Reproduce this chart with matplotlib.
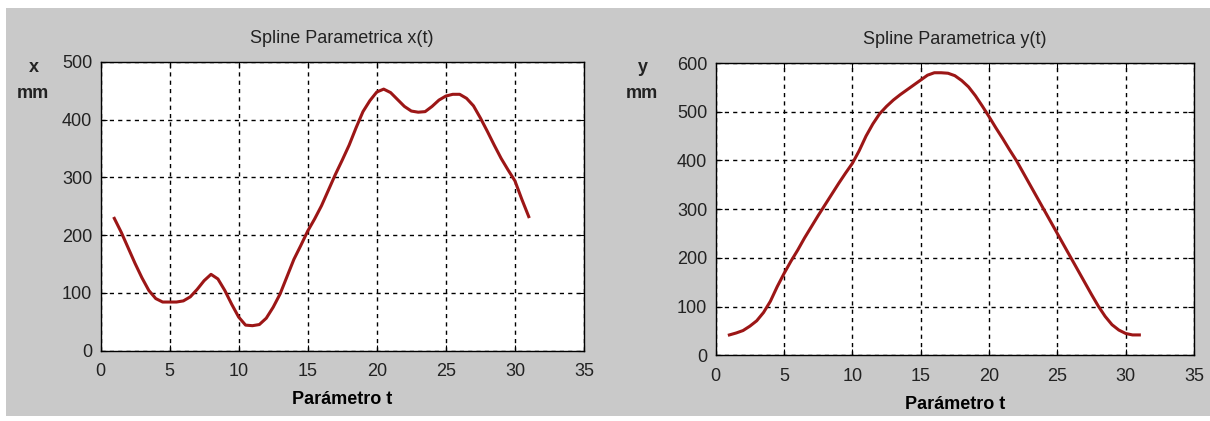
import matplotlib
matplotlib.use("Agg")
import matplotlib.pyplot as plt
from matplotlib.patches import Rectangle

# Parameter samples
t_vals = [1.0, 1.5, 2.0, 2.5, 3.0, 3.5, 4.0, 4.5, 5.0, 5.5, 6.0, 6.5, 7.0, 7.5,
          8.0, 8.5, 9.0, 9.5, 10.0, 10.5, 11.0, 11.5, 12.0, 12.5, 13.0, 13.5,
          14.0, 14.5, 15.0, 15.5, 16.0, 16.5, 17.0, 17.5, 18.0, 18.5, 19.0,
          19.5, 20.0, 20.5, 21.0, 21.5, 22.0, 22.5, 23.0, 23.5, 24.0, 24.5,
          25.0, 25.5, 26.0, 26.5, 27.0, 27.5, 28.0, 28.5, 29.0, 29.5, 30.0,
          30.5, 31.0]

# x(t) in mm
x_vals = [229, 205, 178, 151, 126, 104, 90, 84, 84, 84, 86, 93, 106, 121,
          132, 124, 104, 80, 58, 44, 43, 45, 56, 75, 98, 128,
          158, 182, 207, 228, 251, 278, 305, 330, 356, 386, 414,
          433, 448, 453, 447, 435, 423, 415, 413, 414, 423, 434,
          441, 444, 444, 437, 424, 403, 380, 356, 333, 313, 294,
          262, 232]

# y(t) in mm
y_vals = [42, 46, 51, 60, 71, 88, 111, 141, 168, 193, 216, 241, 264, 287,
          309, 331, 353, 374, 394, 420, 450, 475, 496, 511, 524, 535,
          545, 555, 565, 575, 580, 580, 579, 574, 564, 551, 533,
          512, 490, 467, 445, 422, 400, 375, 350, 325, 300, 275,
          250, 225, 200, 175, 150, 125, 101, 80, 63, 52, 45,
          42, 42]

x_ticks = [0, 5, 10, 15, 20, 25, 30, 35]
left_yticks = [0, 100, 200, 300, 400, 500]
right_yticks = [0, 100, 200, 300, 400, 500, 600]

FONT = ["Liberation Sans", "DejaVu Sans"]
LINE_COLOR = "#9c1616"
BG = "#c9c9c9"

W, H = 1210, 421
fig = plt.figure(figsize=(W / 100, H / 100), dpi=100, facecolor="white")
fig.patches.append(Rectangle((6 / W, 5 / H), 1 - 6 / W, (H - 13) / H,
                             transform=fig.transFigure, facecolor=BG,
                             edgecolor="none", zorder=-10))


def px_rect(left, top, right, bottom):
    return [left / W, 1 - bottom / H, (right - left) / W, (bottom - top) / H]


def style_axes(ax, yticks, ylim):
    ax.set_facecolor("white")
    ax.set_xlim(0, 35)
    ax.set_ylim(*ylim)
    ax.set_xticks(x_ticks)
    ax.set_yticks(yticks)
    ax.grid(True, color="black", linestyle=(0, (3, 3)), linewidth=1.0)
    ax.tick_params(direction="in", length=4, width=0.8, top=True, right=True,
                   labelsize=13, colors="black")
    ax.tick_params(axis="x", pad=9)
    ax.tick_params(axis="y", pad=6)
    for lab in ax.get_xticklabels() + ax.get_yticklabels():
        lab.set_family(FONT)
        lab.set_color("#222222")
    for sp in ax.spines.values():
        sp.set_color("black")
        sp.set_linewidth(1.0)
    ax.set_axisbelow(True)


ax1 = fig.add_axes(px_rect(100.5, 62, 584, 350.5))
ax1.plot(t_vals, x_vals, color=LINE_COLOR, linewidth=2.2, solid_joinstyle="round")
style_axes(ax1, left_yticks, (0, 500))
ax1.set_title("Spline Parametrica x(t)", fontsize=13, family=FONT, color="#222222", pad=14)
ax1.set_xlabel("Parámetro t", fontsize=13, family=FONT, fontweight="bold", labelpad=8)

ax2 = fig.add_axes(px_rect(715.7, 63, 1194, 355.4))
ax2.plot(t_vals, y_vals, color=LINE_COLOR, linewidth=2.2, solid_joinstyle="round")
style_axes(ax2, right_yticks, (0, 600))
ax2.set_title("Spline Parametrica y(t)", fontsize=13, family=FONT, color="#222222", pad=14)
ax2.set_xlabel("Parámetro t", fontsize=13, family=FONT, fontweight="bold", labelpad=8)

# Stacked axis-name labels to the left of each value axis
for xp, top_txt, y_top in [(34, "x", 68), (643, "y", 68)]:
    fig.text(xp / W, 1 - y_top / H, top_txt, ha="center", va="center",
             fontsize=13, family=FONT, fontweight="bold", color="#222222")
    fig.text((xp - 1) / W, 1 - 94 / H, "mm", ha="center", va="center",
             fontsize=13, family=FONT, fontweight="bold", color="#222222")

fig.savefig("out.png", dpi=100, facecolor="white")
